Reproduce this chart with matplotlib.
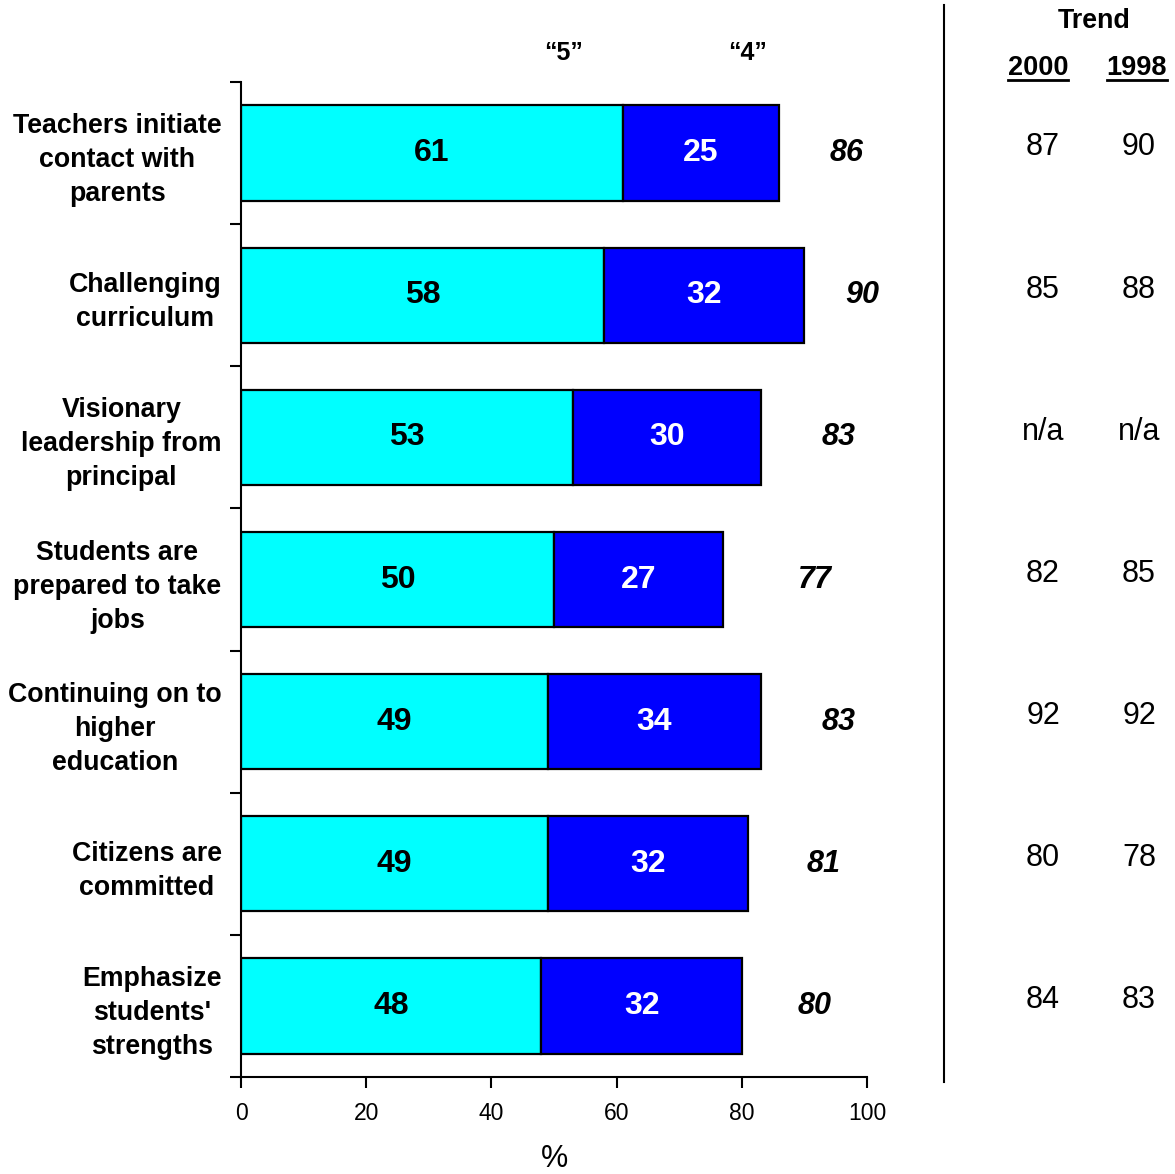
import matplotlib
matplotlib.use("Agg")
import matplotlib.pyplot as plt
from matplotlib.lines import Line2D
import matplotlib.transforms as mtransforms

plt.rcParams["font.family"] = ["Liberation Sans", "DejaVu Sans"]

categories = [
    "Teachers initiate\ncontact with\nparents",
    "Challenging\ncurriculum",
    "Visionary\nleadership from\nprincipal",
    "Students are\nprepared to take\njobs",
    "Continuing on to\nhigher\neducation",
    "Citizens are\ncommitted",
    "Emphasize\nstudents'\nstrengths",
]
rating_5 = [61, 58, 53, 50, 49, 49, 48]
rating_4 = [25, 32, 30, 27, 34, 32, 32]
totals = [86, 90, 83, 77, 83, 81, 80]
trend_2000 = ["87", "85", "n/a", "82", "92", "80", "84"]
trend_1998 = ["90", "88", "n/a", "85", "92", "78", "83"]
xticks = [0, 20, 40, 60, 80, 100]

# gap between the end of each bar and its italic total (in % units)
total_gap = [10.8, 9.2, 12.4, 14.7, 12.4, 12.0, 11.7]

CYAN = "#00FFFF"
BLUE = "#0000FF"

fig = plt.figure(figsize=(11.75, 11.74), dpi=100)
ax = fig.add_axes([241 / 1175, 1 - 1077 / 1174, 626 / 1175, 995 / 1174])

ypos = list(range(len(categories)))
ax.barh(ypos, rating_5, height=0.67, color=CYAN, edgecolor="black", linewidth=1.6)
ax.barh(ypos, rating_4, left=rating_5, height=0.67, color=BLUE,
        edgecolor="black", linewidth=1.6)

for y, a, b, t, g in zip(ypos, rating_5, rating_4, totals, total_gap):
    ax.text(a / 2, y, str(a), ha="center", va="center", fontsize=23,
            fontweight="bold", color="black")
    ax.text(a + b / 2, y, str(b), ha="center", va="center", fontsize=23,
            fontweight="bold", color="white")
    ax.text(t + g, y, str(t), ha="center", va="center", fontsize=22,
            fontweight="bold", fontstyle="italic", color="black")

ax.set_xlim(0, 100)
ax.set_ylim(len(categories) - 0.5, -0.5)

# category names on major ticks, tick marks on the boundaries between bars
ax.set_yticks(ypos)
ax.set_yticklabels(categories, fontsize=19.3, fontweight="bold", linespacing=1.4)
for lbl in ax.get_yticklabels():
    lbl.set_multialignment("center")
ax.tick_params(axis="y", which="major", length=0, pad=14)
ax.set_yticks([i - 0.5 for i in range(len(categories) + 1)], minor=True)
ax.tick_params(axis="y", which="minor", length=8, width=1.5, direction="out")

ax.set_xticks(xticks)
ax.set_xticklabels([str(v) for v in xticks], fontsize=16.5)
ax.tick_params(axis="x", length=8, width=1.5, direction="out", pad=10)
ax.set_xlabel("%", fontsize=22, labelpad=14)

for side in ["top", "right"]:
    ax.spines[side].set_visible(False)
for side in ["left", "bottom"]:
    ax.spines[side].set_linewidth(1.5)

# column headers above the bars
hdr = mtransforms.blended_transform_factory(ax.transData, fig.transFigure)
ax.text(51.6, 1 - 53 / 1174, "\u201c5\u201d", transform=hdr, ha="center",
        va="center", fontsize=18, fontweight="bold")
ax.text(81.0, 1 - 53 / 1174, "\u201c4\u201d", transform=hdr, ha="center",
        va="center", fontsize=18, fontweight="bold")

# trend table on the right
fig.add_artist(Line2D([944 / 1175, 944 / 1175], [1 - 5 / 1174, 1 - 1082 / 1174],
                      color="black", linewidth=1.5))
fig.text(1094 / 1175, 1 - 21 / 1174, "Trend", ha="center", va="center",
         fontsize=19.3, fontweight="bold")
col_x = [1038 / 1175, 1137 / 1175]
headers = []
for cx, year in zip(col_x, ["2000", "1998"]):
    headers.append(fig.text(cx, 1 - 68 / 1174, year, ha="center", va="center",
                            fontsize=19.5, fontweight="bold"))

tbl = mtransforms.blended_transform_factory(fig.transFigure, ax.transData)
for y, v0, v1 in zip(ypos, trend_2000, trend_1998):
    ax.text(1043 / 1175, y - 0.04, v0, transform=tbl, ha="center", va="center",
            fontsize=22, clip_on=False)
    ax.text(1139 / 1175, y - 0.04, v1, transform=tbl, ha="center", va="center",
            fontsize=22, clip_on=False)

# underline the year headers
fig.canvas.draw()
renderer = fig.canvas.get_renderer()
inv = fig.transFigure.inverted()
for h in headers:
    bb = h.get_window_extent(renderer)
    (x0, y0), (x1, _) = inv.transform([(bb.x0, bb.y0), (bb.x1, bb.y1)])
    fig.add_artist(Line2D([x0, x1], [y0 + 1 / 1174, y0 + 1 / 1174],
                          color="black", linewidth=2))

fig.savefig("out.png", dpi=100)
